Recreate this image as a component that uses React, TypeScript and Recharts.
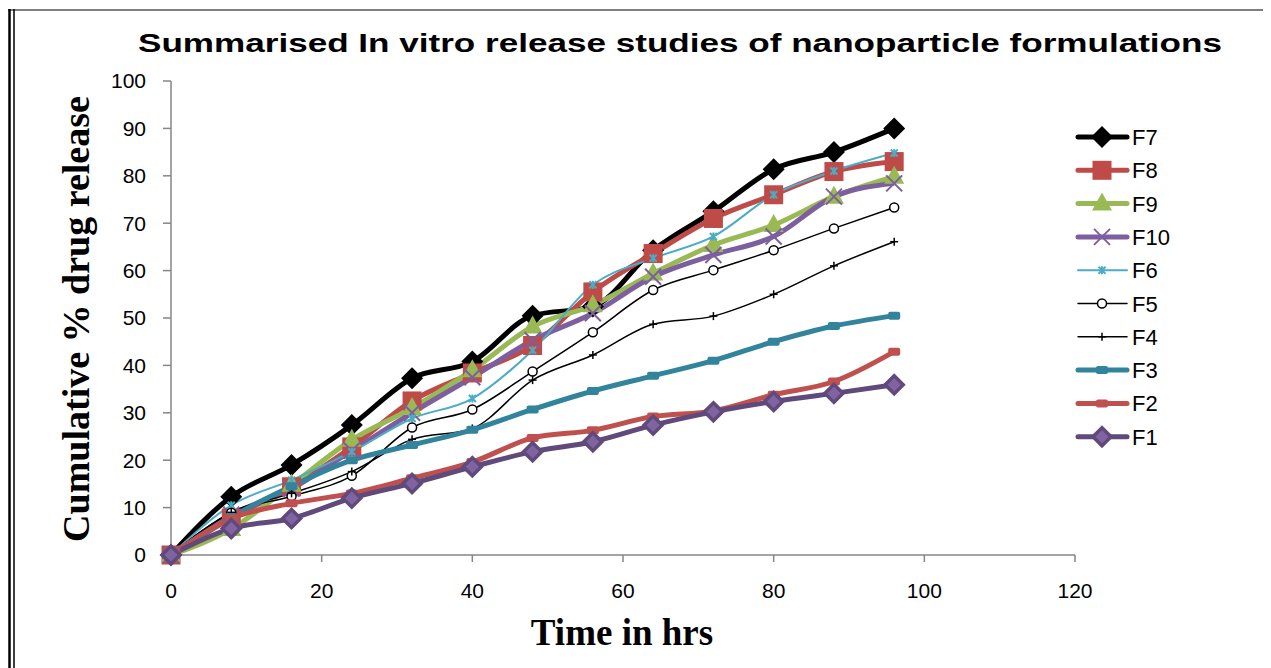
import { LineChart, Line, XAxis, YAxis } from 'recharts'

const hours = [0, 8, 16, 24, 32, 40, 48, 56, 64, 72, 80, 88, 96]

const f7 = [0, 12.3, 19, 27.4, 37.3, 40.8, 50.5, 52.4, 64.3, 72.5, 81.4, 85, 90]
const f8 = [0, 7.8, 14.4, 22.8, 32.5, 38.4, 44.2, 55.5, 63.6, 71, 76, 80.9, 83]
const f9 = [0, 5.5, 14.8, 24.3, 31, 39, 48.2, 52.7, 59.4, 65.4, 69.6, 75.6, 79.8]
const f10 = [0, 8.5, 14, 22, 30, 37.5, 45.3, 51, 58.7, 63.3, 67.2, 75.6, 78.4]
const f6 = [0, 10.5, 15.8, 21.8, 28.8, 33, 43.2, 57, 62.6, 67.2, 76, 81, 84.8]
const f5 = [0, 8.9, 12.4, 16.7, 26.9, 30.7, 38.7, 47, 55.9, 60.1, 64.3, 68.9, 73.3]
const f4 = [0, 9, 13, 17.6, 24.4, 26.7, 36.9, 42.2, 48.7, 50.4, 55, 61, 66.1]
const f3 = [0, 8, 14.5, 20, 23.2, 26.4, 30.7, 34.6, 37.8, 41, 45, 48.3, 50.5]
const f2 = [0, 7.7, 10.9, 13, 16.2, 19.6, 24.7, 26.3, 29.2, 30.4, 33.8, 36.6, 42.9]
const f1 = [0, 5.6, 7.7, 12, 15.1, 18.6, 21.8, 23.9, 27.4, 30.2, 32.4, 34.1, 35.9]

const xTicks = [0, 20, 40, 60, 80, 100, 120]
const yTicks = [0, 10, 20, 30, 40, 50, 60, 70, 80, 90, 100]

type Kind = 'diamond' | 'square' | 'triangle' | 'cross' | 'star' | 'circle' | 'plus' | 'dash' | 'diamond2'

type Series = {
  key: string
  values: number[]
  color: string
  width: number
  kind: Kind
}

const series: Series[] = [
  { key: 'F7', values: f7, color: '#000000', width: 5, kind: 'diamond' },
  { key: 'F8', values: f8, color: '#BE4B48', width: 5, kind: 'square' },
  { key: 'F9', values: f9, color: '#98B954', width: 5, kind: 'triangle' },
  { key: 'F10', values: f10, color: '#7D5FA0', width: 5, kind: 'cross' },
  { key: 'F6', values: f6, color: '#4BACC6', width: 2, kind: 'star' },
  { key: 'F5', values: f5, color: '#000000', width: 1.5, kind: 'circle' },
  { key: 'F4', values: f4, color: '#000000', width: 1.5, kind: 'plus' },
  { key: 'F3', values: f3, color: '#31849B', width: 5, kind: 'dash' },
  { key: 'F2', values: f2, color: '#C0504D', width: 5, kind: 'dash' },
  { key: 'F1', values: f1, color: '#604A7B', width: 5, kind: 'diamond2' },
]

const data = hours.map((t, i) => {
  const row: Record<string, number> = { t }
  series.forEach((s) => {
    row[s.key] = s.values[i]
  })
  return row
})

const W = 1263
const H = 660

function Marker({ kind, color, cx, cy }: { kind: Kind; color: string; cx: number; cy: number }) {
  switch (kind) {
    case 'diamond':
      return <polygon points={`${cx},${cy - 11} ${cx + 11},${cy} ${cx},${cy + 11} ${cx - 11},${cy}`} fill={color} />
    case 'diamond2':
      return (
        <polygon
          points={`${cx},${cy - 9} ${cx + 9},${cy} ${cx},${cy + 9} ${cx - 9},${cy}`}
          fill="#8064A2"
          stroke={color}
          strokeWidth={3.5}
        />
      )
    case 'square':
      return <rect x={cx - 9.5} y={cy - 9.5} width={19} height={19} fill={color} />
    case 'triangle':
      return <polygon points={`${cx},${cy - 11} ${cx + 10},${cy + 7} ${cx - 10},${cy + 7}`} fill={color} />
    case 'cross':
      return (
        <g stroke={color} strokeWidth={2}>
          <line x1={cx - 8} y1={cy - 8} x2={cx + 8} y2={cy + 8} />
          <line x1={cx - 8} y1={cy + 8} x2={cx + 8} y2={cy - 8} />
        </g>
      )
    case 'star':
      return (
        <g stroke={color} strokeWidth={2}>
          <line x1={cx - 3.5} y1={cy - 3.5} x2={cx + 3.5} y2={cy + 3.5} />
          <line x1={cx - 3.5} y1={cy + 3.5} x2={cx + 3.5} y2={cy - 3.5} />
          <line x1={cx} y1={cy - 4} x2={cx} y2={cy + 4} />
        </g>
      )
    case 'circle':
      return <circle cx={cx} cy={cy} r={4.5} fill="#ffffff" stroke={color} strokeWidth={1.5} />
    case 'plus':
      return (
        <g stroke={color} strokeWidth={1.5}>
          <line x1={cx - 4} y1={cy} x2={cx + 4} y2={cy} />
          <line x1={cx} y1={cy - 4} x2={cx} y2={cy + 4} />
        </g>
      )
    case 'dash':
      return <rect x={cx - 6} y={cy - 4} width={12} height={8} rx={2} fill={color} />
  }
  return null
}

function LegendBox() {
  return (
    <svg width={160} height={340} style={{ position: 'absolute', left: 1067, top: 112 }}>
      {series.map((s, i) => {
        const y = 17 + i * 33.3
        return (
          <g key={s.key}>
            <line x1={3} y1={y} x2={52} y2={y} stroke={s.color} strokeWidth={s.width} strokeLinecap="round" />
            <Marker kind={s.kind} color={s.color} cx={27} cy={y} />
            <text x={57} y={y + 8} fontSize={22} fontFamily="Liberation Sans, Arial, sans-serif" fill="#000">
              {s.key}
            </text>
          </g>
        )
      })}
    </svg>
  )
}

export default function App() {
  return (
    <div style={{ position: 'relative', width: W, height: H }}>
      <LineChart width={W} height={H} data={data} margin={{ top: 73, right: 196, bottom: 0, left: 0 }}>
        <XAxis
          dataKey="t"
          type="number"
          domain={[0, 120]}
          ticks={xTicks}
          height={113}
          stroke="#868686"
          strokeWidth={1.5}
          tickSize={7}
          tickMargin={21}
          tick={{ fill: '#000', fontSize: 21, fontFamily: 'Liberation Sans, Arial, sans-serif' }}
        />
        <YAxis
          type="number"
          domain={[0, 100]}
          ticks={yTicks}
          width={163}
          stroke="#868686"
          strokeWidth={1.5}
          tickSize={8}
          tickMargin={17}
          tick={{ fill: '#000', fontSize: 21, fontFamily: 'Liberation Sans, Arial, sans-serif' }}
        />
        {series.map((s) => (
          <Line
            key={s.key}
            dataKey={s.key}
            name={s.key}
            type="monotone"
            stroke={s.color}
            strokeWidth={s.width}
            isAnimationActive={false}
            dot={(p: any) => <Marker key={`${s.key}-${p.index}`} kind={s.kind} color={s.color} cx={p.cx} cy={p.cy} />}
            activeDot={false}
          />
        ))}
      </LineChart>
      <LegendBox />
      <svg width={W} height={H} style={{ position: 'absolute', left: 0, top: 0, pointerEvents: 'none' }}>
        <line x1={0} y1={2} x2={W} y2={2} stroke="#7f7f7f" strokeWidth={2} />
        <line x1={1.5} y1={1} x2={1.5} y2={H} stroke="#000" strokeWidth={2.5} />
        <line x1={6} y1={1} x2={6} y2={H} stroke="#000" strokeWidth={1.5} />
        <text
          x={672}
          y={44}
          textAnchor="middle"
          fontSize={26}
          fontWeight="bold"
          fontFamily="Liberation Sans, Arial, sans-serif"
          textLength={1084}
          lengthAdjust="spacingAndGlyphs"
        >
          Summarised In vitro release studies of nanoparticle formulations
        </text>
        <text
          x={0}
          y={0}
          transform="translate(81,311) rotate(-90)"
          textAnchor="middle"
          fontSize={38}
          fontWeight="bold"
          fontFamily="Liberation Serif, Times New Roman, serif"
        >
          Cumulative % drug release
        </text>
        <text
          x={614}
          y={637}
          textAnchor="middle"
          fontSize={37}
          fontWeight="bold"
          fontFamily="Liberation Serif, Times New Roman, serif"
        >
          Time in hrs
        </text>
      </svg>
    </div>
  )
}
